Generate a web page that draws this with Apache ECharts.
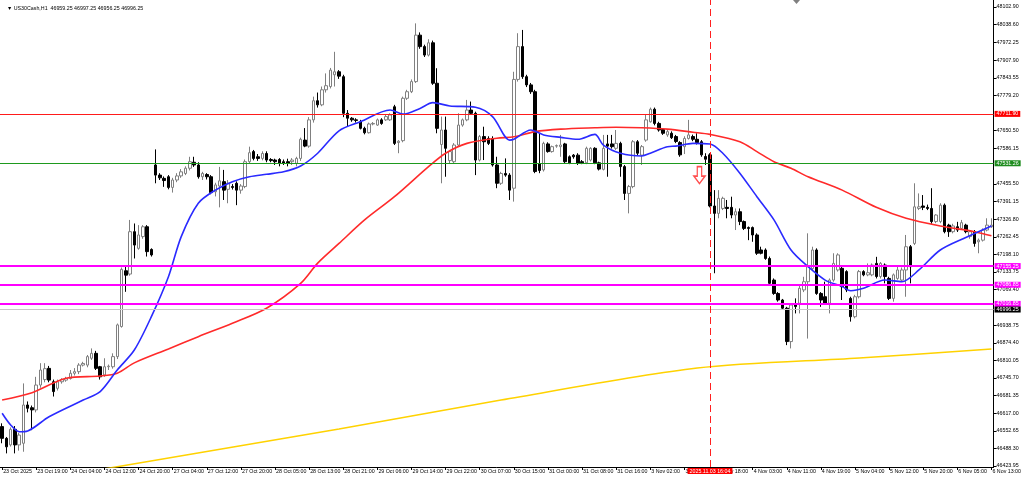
<!DOCTYPE html>
<html>
<head>
<meta charset="utf-8">
<script src="https://cdn.jsdelivr.net/npm/echarts/dist/echarts.min.js"></script>
<style>
html,body{margin:0;padding:0;background:#fff;}
#chart{width:1024px;height:479px;}
</style>
</head>
<body>
<div id="chart"></div>
<script>
// ---- DATA ----
const symbolTitle = '\u25BC US30Cash,H1  46959.25 46997.25 46956.25 46996.25';

// tick labels for every 8th bar (index 0, 8, 16, ... 232)
const timeLabels = ['23 Oct 2025','23 Oct 19:00','24 Oct 04:00','24 Oct 12:00','24 Oct 20:00','27 Oct 04:00','27 Oct 12:00','27 Oct 20:00','28 Oct 05:00','28 Oct 13:00','28 Oct 21:00','29 Oct 06:00','29 Oct 14:00','29 Oct 22:00','30 Oct 07:00','30 Oct 15:00','31 Oct 00:00','31 Oct 08:00','31 Oct 16:00','3 Nov 02:00','3 Nov 10:00','3 Nov 18:00','4 Nov 03:00','4 Nov 11:00','4 Nov 19:00','5 Nov 04:00','5 Nov 12:00','5 Nov 20:00','6 Nov 05:00','6 Nov 13:00'];

const priceTicks = [48102.90,48038.60,47972.25,47907.90,47843.55,47779.20,47650.50,47586.15,47455.50,47391.15,47326.80,47262.45,47198.10,47133.75,47069.40,46938.75,46874.40,46810.05,46745.70,46681.35,46617.00,46552.65,46488.30,46423.95];

// [open, high, low, close] per H1 bar
const ohlc = [
[46568,46580,46507,46525],[46525,46530,46470,46494],[46501,46565,46495,46558],[46558,46570,46470,46501],[46501,46545,46480,46537],
[46507,46726,46476,46647],[46647,46660,46620,46635],[46637,46645,46555,46629],[46629,46750,46620,46720],[46720,46800,46710,46775],
[46740,46800,46730,46780],[46781,46790,46730,46738],[46732,46740,46678,46696],[46708,46740,46700,46732],[46732,46745,46725,46740],
[46738,46750,46732,46744],[46744,46775,46740,46763],[46763,46782,46755,46769],[46769,46800,46760,46793],[46793,46805,46788,46799],
[46793,46830,46785,46824],[46818,46854,46812,46836],[46836,46845,46775,46781],[46787,46790,46740,46750],[46757,46818,46750,46787],
[46787,46795,46775,46789],[46787,46836,46780,46824],[46824,46945,46815,46940],[46934,47150,46930,47143],[47138,47153,47061,47122],
[47126,47324,47120,47281],[47281,47311,47183,47232],[47220,47305,47215,47269],[47263,47305,47255,47299],[47299,47305,47190,47208],
[47216,47220,47190,47196],[47525,47582,47458,47488],[47488,47495,47470,47478],[47476,47483,47445,47468],[47482,47488,47436,47443],
[47443,47478,47424,47470],[47470,47495,47462,47485],[47485,47510,47478,47500],[47494,47520,47488,47513],[47513,47555,47505,47537],
[47535,47555,47518,47525],[47525,47535,47475,47482],[47482,47500,47470,47494],[47490,47495,47472,47482],[47482,47488,47418,47424],
[47427,47460,47410,47452],[47448,47518,47370,47467],[47464,47507,47397,47433],[47436,47470,47385,47458],[47446,47455,47435,47443],
[47458,47465,47378,47433],[47433,47455,47420,47448],[47446,47545,47440,47537],[47537,47592,47530,47570],[47574,47580,47542,47549],
[47555,47565,47540,47549],[47549,47575,47542,47567],[47567,47575,47535,47543],[47545,47550,47535,47541],[47543,47548,47525,47537],
[47545,47550,47520,47531],[47537,47545,47525,47531],[47537,47548,47520,47531],[47537,47550,47525,47543],[47531,47555,47520,47549],
[47549,47625,47540,47619],[47616,47660,47590,47594],[47594,47700,47588,47690],[47690,47775,47680,47760],[47760,47790,47735,47745],
[47745,47812,47740,47800],[47800,47860,47790,47815],[47812,47880,47805,47872],[47855,47939,47812,47866],[47866,47872,47840,47850],
[47848,47855,47700,47714],[47714,47726,47665,47696],[47696,47700,47683,47690],[47690,47696,47680,47688],[47683,47690,47655,47659],
[47659,47665,47637,47643],[47643,47680,47640,47675],[47675,47682,47670,47677],[47671,47695,47668,47690],[47690,47696,47672,47677],
[47690,47708,47686,47702],[47690,47714,47686,47708],[47738,47745,47598,47604],[47607,47616,47568,47612],[47614,47775,47608,47769],
[47769,47800,47763,47793],[47793,47838,47788,47830],[47830,48043,47825,48000],[48000,48010,47950,47958],[47958,47965,47920,47927],
[47927,47985,47922,47972],[47972,47980,47818,47824],[47824,47879,47641,47659],[47600,47702,47458,47653],[47653,47702,47482,47586],
[47541,47580,47530,47574],[47537,47605,47531,47598],[47598,47714,47592,47671],[47671,47695,47665,47690],[47690,47763,47685,47726],
[47726,47757,47708,47714],[47714,47720,47488,47543],[47543,47635,47538,47629],[47629,47665,47543,47610],[47622,47630,47598,47604],
[47622,47630,47519,47525],[47525,47555,47440,47458],[47458,47500,47452,47494],[47494,47549,47482,47488],[47488,47495,47397,47433],
[47440,47866,47391,47838],[47838,48007,47830,47958],[47958,48019,47840,47848],[47848,47855,47810,47818],[47818,47825,47785,47793],
[47793,47800,47495,47501],[47530,47641,47495,47505],[47507,47610,47501,47604],[47602,47608,47570,47574],[47574,47596,47570,47592],
[47594,47600,47588,47596],[47592,47635,47555,47598],[47602,47606,47530,47537],[47555,47560,47528,47533],[47561,47565,47548,47555],
[47561,47568,47525,47531],[47537,47543,47528,47533],[47533,47592,47528,47586],[47543,47590,47538,47586],[47586,47590,47528,47533],
[47533,47537,47505,47510],[47509,47635,47505,47586],[47602,47635,47482,47594],[47602,47635,47585,47592],[47586,47653,47580,47604],
[47604,47610,47482,47519],[47519,47525,47397,47421],[47421,47452,47348,47446],[47446,47616,47440,47610],[47610,47616,47560,47568],
[47561,47598,47525,47592],[47616,47708,47610,47690],[47683,47735,47680,47729],[47729,47735,47670,47677],[47677,47683,47647,47653],
[47655,47660,47635,47641],[47635,47655,47628,47647],[47641,47648,47620,47625],[47629,47635,47605,47611],[47607,47612,47555,47562],
[47592,47630,47565,47622],[47622,47690,47618,47635],[47629,47636,47612,47619],[47619,47641,47600,47607],[47610,47616,47555,47562],
[47556,47568,47525,47546],[47562,47568,47370,47375],[47375,47433,47129,47348],[47348,47433,47330,47403],[47366,47409,47360,47403],
[47370,47397,47330,47366],[47370,47409,47330,47342],[47342,47366,47287,47354],[47354,47366,47305,47318],[47318,47322,47287,47293],
[47296,47300,47250,47293],[47296,47300,47244,47269],[47269,47275,47196,47202],[47214,47226,47198,47202],[47214,47220,47178,47183],
[47183,47190,47086,47092],[47104,47110,47050,47055],[47055,47060,47025,47031],[47031,47035,46995,47001],[47001,47006,46866,46879],
[46879,47020,46854,47013],[47013,47037,46982,47007],[47019,47086,46982,47074],[47068,47116,47060,47098],[47098,47275,46890,47153],
[47146,47226,47140,47214],[47214,47220,47050,47055],[47055,47060,47006,47031],[47043,47098,47013,47019],[47019,47110,46982,47104],
[47104,47202,47098,47165],[47141,47202,47135,47196],[47147,47153,47031,47080],[47135,47140,47060,47068],[47037,47043,46952,46970],
[46970,47050,46964,47043],[47043,47141,47037,47135],[47135,47140,47118,47123],[47123,47165,47118,47131],[47123,47165,47118,47159],
[47165,47189,47110,47117],[47117,47170,47110,47165],[47159,47165,47092,47117],[47110,47116,47031,47037],[47037,47128,47025,47123],
[47110,47153,47105,47141],[47104,47150,47098,47141],[47141,47269,47043,47226],[47226,47232,47092,47153],[47238,47458,47232,47372],
[47366,47421,47360,47372],[47375,47415,47360,47370],[47370,47380,47360,47366],[47366,47440,47310,47318],[47318,47345,47312,47342],
[47318,47385,47312,47378],[47378,47384,47275,47281],[47305,47310,47262,47281],[47281,47310,47275,47302],[47299,47317,47280,47287],
[47293,47324,47290,47314],[47305,47310,47275,47281],[47263,47287,47255,47281],[47281,47287,47226,47238],[47244,47256,47202,47250],
[47250,47293,47245,47287],[47287,47330,47282,47305],[47299,47330,47295,47305]
];

// moving averages: [bar index, price]
const blueMA = [[0,46617],[2,46574],[4,46549],[6,46552],[11,46604],[19,46665],[23,46696],[27,46775],[31,46848],[35,46970],[39,47116],[42,47263],[46,47385],[50,47433],[54,47464],[58,47482],[62,47491],[66,47500],[70,47521],[74,47568],[79,47650],[84,47683],[91,47726],[94,47711],[98,47732],[101,47753],[105,47741],[111,47736],[115,47702],[119,47616],[120,47619],[124,47653],[127,47635],[131,47626],[135,47619],[139,47637],[141,47598],[145,47568],[150,47558],[152,47568],[156,47592],[158,47594],[162,47604],[166,47602],[169,47568],[173,47495],[177,47409],[181,47324],[185,47214],[189,47153],[193,47104],[197,47080],[199,47065],[202,47074],[207,47104],[211,47098],[215,47141],[220,47214],[226,47260],[232,47302]];
const redMA = [[0,46665],[7,46692],[15,46745],[23,46753],[27,46763],[31,46801],[39,46852],[46,46897],[54,46946],[62,47001],[70,47092],[74,47166],[79,47238],[85,47324],[92,47409],[100,47519],[104,47568],[109,47604],[116,47623],[120,47628],[125,47647],[131,47656],[139,47661],[144,47663],[150,47661],[156,47656],[162,47645],[166,47637],[173,47610],[177,47574],[181,47537],[185,47513],[189,47482],[197,47433],[205,47370],[212,47330],[220,47302],[228,47281],[232,47266]];
const yellowMA = [[0,46350],[28,46424],[79,46559],[117,46665],[163,46782],[201,46819],[232,46852]];

// horizontal levels [price, label]
const levelRed = [47711.90, '47711.90'];
const levelGreen = [47531.26, '47531.26'];
const levelMagenta = [[47155.25,'47155.25'],[47086.85,'47086.85'],[47016.85,'47016.85']];
const bidLine = [46996.25, '46996.25'];
const vLine = [166, '2025.11.03 16:04'];
const sellArrow = [[164, 47488]];

// ---- CHART ----
const FONT = 'Liberation Sans';
const FS = 5.3;
const cats = ohlc.map((d, i) => String(i));
const candleData = ohlc.map(d => [d[0], d[3], d[2], d[1]]);

function levelItem(val, txt, lineColor, bg, width) {
  return {
    yAxis: val,
    lineStyle: {color: lineColor, width: width, type: 'solid'},
    label: {show: true, position: 'end', formatter: txt, color: '#fff', backgroundColor: bg,
      fontSize: FS, fontFamily: FONT, padding: [1, 2, 0, 2], distance: 1}
  };
}

const markData = [
  levelItem(levelRed[0], levelRed[1], '#ff1a1a', '#ff0000', 1.2),
  levelItem(levelGreen[0], levelGreen[1], '#1e9a1e', '#1e8c1e', 1.2),
  ...levelMagenta.map(m => levelItem(m[0], m[1], '#ff00ff', '#ff00ff', 1.8)),
  levelItem(bidLine[0], bidLine[1], '#c8c8c8', '#000000', 1),
  {
    xAxis: String(vLine[0]),
    lineStyle: {color: '#ff2020', width: 1, type: [7, 4]},
    label: {show: true, position: 'start', formatter: vLine[1], color: '#fff', backgroundColor: '#ff0000',
      fontSize: FS, fontFamily: FONT, padding: [1, 2, 0, 2], distance: 1}
  }
];

const chart = echarts.init(document.getElementById('chart'), null, {renderer: 'canvas'});
chart.setOption({
  animation: false,
  backgroundColor: '#ffffff',
  title: {text: symbolTitle, left: 2, top: 1,
    textStyle: {fontSize: FS, fontWeight: 'normal', color: '#000', fontFamily: FONT}},
  grid: {left: 0, top: 0, right: 29, bottom: 12, show: true, borderColor: '#b0b0b0', borderWidth: 0},
  xAxis: {
    type: 'category', data: cats, boundaryGap: true,
    axisLine: {show: true, lineStyle: {color: '#000', width: 1}},
    axisTick: {show: true, alignWithLabel: true, length: 3, interval: (i) => i % 8 === 0,
      lineStyle: {color: '#000'}},
    axisLabel: {show: true, interval: (i) => i % 8 === 0,
      formatter: (v, i) => timeLabels[Math.round(i / 8)] || '',
      align: 'left', margin: 2, fontSize: FS, color: '#000', fontFamily: FONT, padding: [0, 0, 0, 1]},
    splitLine: {show: false}
  },
  yAxis: {
    type: 'value', position: 'right', min: 46420.2, max: 48128.5, scale: true,
    axisLine: {show: true, lineStyle: {color: '#000', width: 1}},
    axisTick: {show: true, length: 3, customValues: priceTicks, lineStyle: {color: '#000'}},
    axisLabel: {show: true, customValues: priceTicks, formatter: (v) => v.toFixed(2),
      fontSize: FS, color: '#000', fontFamily: FONT, margin: 3},
    splitLine: {show: false}
  },
  series: [
    {
      type: 'line', name: 'yellow', data: yellowMA, showSymbol: false, smooth: 0.3,
      lineStyle: {color: '#ffd200', width: 1.5}, z: 3, silent: true
    },
    {
      type: 'candlestick', name: 'US30', data: candleData, barWidth: 3,
      itemStyle: {color: '#ffffff', color0: '#000000', borderColor: '#808080', borderColor0: '#000000', borderWidth: 1},
      z: 2,
      markLine: {symbol: ['none', 'none'], silent: true, animation: false, data: markData, z: 5}
    },
    {
      type: 'line', name: 'red', data: redMA, showSymbol: false, smooth: 0.3,
      lineStyle: {color: '#ff2a2a', width: 1.6}, z: 4, silent: true
    },
    {
      type: 'line', name: 'blue', data: blueMA, showSymbol: false, smooth: 0.3,
      lineStyle: {color: '#2a2aff', width: 1.6}, z: 4, silent: true
    },
    {
      type: 'scatter', name: 'sell', data: sellArrow,
      symbol: 'path://M3,0 L7,0 L7,9 L10,9 L5,16 L0,9 L3,9 Z', symbolSize: [11, 17], symbolOffset: [-2, 0],
      itemStyle: {color: '#ffffff', borderColor: '#ff2020', borderWidth: 1.5}, z: 6, silent: true
    }
  ],
  graphic: [
    {type: 'polygon', shape: {points: [[793, 0], [800, 0], [796.5, 4]]}, style: {fill: '#808080'}, silent: true}
  ]
});
</script>
</body>
</html>
